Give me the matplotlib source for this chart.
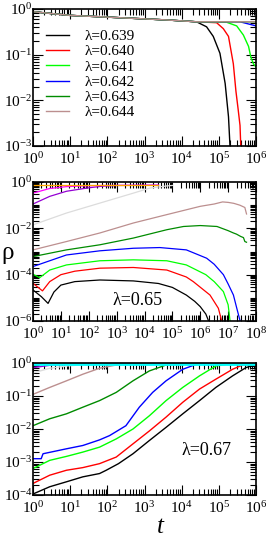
import matplotlib
matplotlib.use("Agg")
import matplotlib.pyplot as plt
import matplotlib.ticker as mticker
import numpy as np

plt.rcParams["font.family"] = ["Liberation Serif", "DejaVu Serif"]
plt.rcParams["mathtext.fontset"] = "custom"
plt.rcParams["mathtext.rm"] = "Liberation Serif"
plt.rcParams["mathtext.it"] = "Liberation Serif:italic"
plt.rcParams["mathtext.default"] = "regular"

# ---- data: (log10 t, log10 rho) ----
# top panel: survival curves
p1_labels = ["λ=0.639", "λ=0.640", "λ=0.641", "λ=0.642", "λ=0.643", "λ=0.644"]
p1_colors = ["black", "#ff0000", "#00ff00", "#0000ff", "#008b00", "#bc8f8f"]
p1_black = [(0, -0.06), (1, -0.14), (1.8, -0.17), (3.6, -0.24), (4.4, -0.28), (4.67, -0.39),
            (4.85, -0.6), (5.03, -0.97), (5.17, -1.63), (5.26, -2.36), (5.3, -3.0)]
p1_red = [(0, -0.06), (1, -0.14), (1.8, -0.17), (3.6, -0.24), (4.4, -0.28), (4.94, -0.3),
          (5.12, -0.43), (5.26, -0.6), (5.39, -1.2), (5.46, -1.8), (5.52, -2.2),
          (5.57, -2.55), (5.59, -3.0)]
p1_green = [(0, -0.06), (1, -0.14), (1.8, -0.17), (3.6, -0.24), (4.4, -0.28), (5.21, -0.29),
            (5.48, -0.37), (5.66, -0.57), (5.8, -0.82), (5.86, -1.05), (5.93, -1.2),
            (6.0, -1.27)]
p1_blue = [(0, -0.06), (1, -0.14), (1.8, -0.17), (3.6, -0.24), (4.4, -0.28), (5.57, -0.28),
           (6.0, -0.37)]
p1_dgreen = [(0, -0.06), (1, -0.14), (1.8, -0.17), (3.6, -0.24), (4.4, -0.28), (6.0, -0.28)]
p1_brown = [(0, -0.06), (1, -0.14), (1.8, -0.17), (3.6, -0.24), (4.4, -0.28), (6.0, -0.28)]
p1_series = [p1_black, p1_red, p1_green, p1_blue, p1_dgreen, p1_brown]

# middle panel: lambda = 0.65
p2_colors = ["black", "#ff0000", "#00ff00", "#0000ff", "#008b00", "#bc8f8f",
             "#dcdcdc", "#9400d3", "#ff00ff", "#ffa500"]
p2_series = [
    [(0, -4.66), (0.3, -4.95), (0.54, -5.24), (0.75, -4.75), (1.0, -4.45), (1.5, -4.3),
     (2.4, -4.23), (3.6, -4.27), (4.5, -4.38), (5.0, -4.55), (5.5, -4.88), (5.8, -5.15),
     (6.0, -5.38), (6.2, -5.7), (6.3, -6.0)],
    [(0, -4.37), (0.34, -4.7), (0.6, -4.3), (1.0, -4.0), (1.5, -3.85), (2.4, -3.72),
     (3.6, -3.69), (4.8, -3.8), (5.5, -4.1), (5.75, -4.3), (6.35, -4.88), (6.65, -5.45),
     (6.77, -6.0)],
    [(0, -3.98), (0.24, -4.13), (0.6, -3.8), (1.2, -3.58), (2.4, -3.4), (3.6, -3.36),
     (4.8, -3.4), (5.5, -3.58), (6.2, -4.0), (6.5, -4.3), (6.83, -4.73), (7.0, -5.3),
     (7.07, -6.0)],
    [(0, -3.65), (1.2, -3.15), (2.4, -2.97), (3.6, -2.86), (4.55, -2.83), (5.5, -2.93),
     (6.23, -3.29), (6.5, -3.55), (6.83, -4.0), (7.0, -4.4), (7.19, -4.88), (7.3, -5.4),
     (7.43, -6.0)],
    [(0, -3.22), (1.2, -2.93), (2.4, -2.71), (3.6, -2.42), (4.8, -2.06), (5.4, -1.92),
     (6.0, -1.88), (6.6, -1.92), (7.0, -2.1), (7.19, -2.2), (7.3, -2.25), (7.45, -2.35),
     (7.55, -2.4), (7.6, -2.57), (7.66, -2.6)],
    [(0, -2.93), (1.2, -2.57), (2.4, -2.2), (3.6, -1.77), (4.66, -1.45), (6.0, -1.05),
     (6.5, -0.95), (6.8, -0.86), (7.0, -0.88), (7.2, -0.92), (7.42, -1.0), (7.6, -1.1),
     (7.66, -1.38)],
    [(0, -1.85), (1.2, -1.34), (2.4, -0.91), (3.6, -0.48), (4.2, -0.26), (4.8, -0.17),
     (5.0, -0.15)],
    [(0, -0.95), (0.6, -0.62), (1.2, -0.40), (2.0, -0.25), (2.5, -0.18), (3.0, -0.15),
     (4.5, -0.14)],
    [(0, -0.48), (0.6, -0.28), (1.2, -0.2), (2.0, -0.16), (2.5, -0.15), (4.5, -0.14)],
    [(0, -0.13), (4.5, -0.13)],
]

# bottom panel: lambda = 0.67
p3_colors = ["black", "#ff0000", "#00ff00", "#0000ff", "#008b00", "#bc8f8f",
             "#dcdcdc", "#9400d3", "#00ffff"]
p3_series = [
    [(0, -3.97), (0.45, -3.75), (0.9, -3.6), (1.34, -3.45), (1.79, -3.35), (1.97, -3.25),
     (2.3, -3.05), (2.69, -2.75), (3.13, -2.35), (3.58, -1.95), (4.03, -1.54),
     (4.48, -1.14), (4.92, -0.74), (5.37, -0.39), (5.73, -0.14), (6.0, -0.04)],
    [(0, -3.65), (0.45, -3.4), (0.9, -3.25), (1.34, -3.17), (1.79, -3.05), (2.24, -2.85),
     (2.69, -2.45), (3.13, -2.06), (3.58, -1.64), (4.03, -1.19), (4.48, -0.79),
     (4.92, -0.49), (5.37, -0.19), (5.64, -0.06), (6.0, -0.04)],
    [(0, -3.2), (0.45, -2.95), (0.9, -2.83), (1.34, -2.7), (1.79, -2.55), (2.24, -2.3),
     (2.69, -2.0), (3.13, -1.6), (3.58, -1.14), (4.03, -0.74), (4.48, -0.39),
     (4.92, -0.09), (5.2, -0.04), (6.0, -0.04)],
    [(0, -2.9), (0.22, -2.9), (0.27, -2.75), (0.9, -2.6), (1.34, -2.5), (1.79, -2.33),
     (2.06, -2.2), (2.5, -1.9), (2.86, -1.34), (3.22, -0.89), (3.58, -0.54),
     (4.03, -0.19), (4.39, -0.04), (6.0, -0.04)],
    [(0, -1.9), (0.45, -1.69), (0.9, -1.54), (1.34, -1.34), (1.79, -1.14), (2.24, -0.89),
     (2.69, -0.54), (3.13, -0.24), (3.58, -0.06), (3.85, -0.04), (6.0, -0.04)],
    [(0, -0.95), (0.45, -0.74), (0.9, -0.54), (1.34, -0.34), (1.79, -0.16), (2.24, -0.06),
     (2.6, -0.04), (6.0, -0.04)],
    [(0, -0.3), (0.45, -0.16), (0.9, -0.09), (1.34, -0.05), (6.0, -0.04)],
    [(0, -0.14), (0.45, -0.07), (0.9, -0.04), (6.0, -0.04)],
    [(0, -0.02), (6.0, -0.02)],
]


def draw(ax, pts, color, lw=1.0, label=None):
    arr = np.array(pts)
    ax.plot(10 ** arr[:, 0], 10 ** arr[:, 1], color=color, lw=lw, label=label)


def sci(v, pos):
    e = int(round(np.log10(v)))
    return r"$\mathregular{10^{%d}}$" % e


def style(ax, xmax, ymin, ystep=1):
    ax.set_xscale("log")
    ax.set_yscale("log")
    ax.set_xlim(1, xmax)
    ax.set_ylim(ymin, 1)
    ax.xaxis.set_major_locator(mticker.LogLocator(base=10, numticks=20))
    ax.xaxis.set_minor_locator(mticker.LogLocator(base=10, subs=np.arange(2, 10), numticks=20))
    ylo = int(round(np.log10(ymin)))
    ax.yaxis.set_major_locator(mticker.FixedLocator(10.0 ** np.arange(ylo, 1, ystep)))
    minors = []
    for d in range(ylo, 0):
        minors += [m * 10.0 ** d for m in range(1, 10)]
    ax.yaxis.set_minor_locator(mticker.FixedLocator(minors))
    ax.xaxis.set_major_formatter(mticker.FuncFormatter(sci))
    ax.yaxis.set_major_formatter(mticker.FuncFormatter(sci))
    ax.xaxis.set_minor_formatter(mticker.NullFormatter())
    ax.yaxis.set_minor_formatter(mticker.NullFormatter())
    ax.tick_params(which="both", direction="in", top=True, right=True, width=0.8,
                   labelsize=11)
    ax.tick_params(which="major", length=7)
    ax.tick_params(which="minor", length=4)
    ax.tick_params(axis="y", pad=0.5)
    ax.tick_params(axis="x", pad=4)
    for s in ax.spines.values():
        s.set_linewidth(1.2)


fig = plt.figure(figsize=(2.70, 5.37), dpi=100)
W, H = 270.0, 537.0
ax1 = fig.add_axes([33 / W, 1 - 146 / H, 223 / W, 137 / H])
ax2 = fig.add_axes([33 / W, 1 - 321 / H, 223 / W, 139 / H])
ax3 = fig.add_axes([33 / W, 1 - 495 / H, 223 / W, 132 / H])

for pts, c, lab in zip(p1_series, p1_colors, p1_labels):
    draw(ax1, pts, c, label=lab)
style(ax1, 1e6, 1e-3)
ax1.legend(loc="upper left", bbox_to_anchor=(0.06, 0.85), frameon=False, fontsize=11,
           handlelength=1.5, handletextpad=1.0, labelspacing=0.1, borderpad=0,
           borderaxespad=0)

for pts, c in zip(p2_series, p2_colors):
    draw(ax2, pts, c, lw=0.9)
style(ax2, 1e8, 1e-6, ystep=2)
ax2.text(0.47, 0.15, "λ=0.65", transform=ax2.transAxes, ha="center", va="center",
         fontsize=13)

for pts, c in zip(p3_series, p3_colors):
    draw(ax3, pts, c, lw=2.0 if c == "#00ffff" else 1.0)
style(ax3, 1e6, 1e-4)
ax3.text(0.78, 0.34, "λ=0.67", transform=ax3.transAxes, ha="center", va="center",
         fontsize=13)

fig.text(8 / W, 1 - 253 / H, "ρ", fontsize=18, ha="center", va="center")
fig.text(160 / W, 1 - 527 / H, "t", fontsize=18, style="italic", ha="center", va="center")

fig.savefig("out.png", dpi=100)
